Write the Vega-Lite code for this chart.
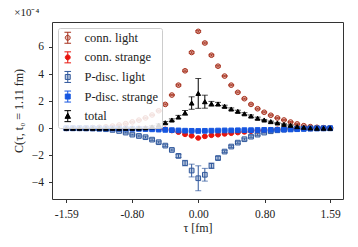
{
"$schema": "https://vega.github.io/schema/vega-lite/v6.json",
"width": 291, "height": 177,
"autosize": {"type": "none"},
"padding": {"left": 52, "top": 22, "right": 15, "bottom": 48},
"background": "white",
"title": {"text": "×10⁻⁴", "anchor": "start", "font": "Liberation Serif", "fontSize": 11, "fontWeight": "normal", "offset": 4, "dx": 2, "color": "#222"},
"config": {
 "view": {"stroke": "#333", "strokeWidth": 1},
 "axis": {"labelFont": "Liberation Serif", "labelFontSize": 11.5, "labelColor": "#222", "titleFont": "Liberation Serif", "titleFontWeight": "normal", "titleColor": "#222", "tickColor": "#333", "tickSize": 3.5, "domain": false, "grid": false},
 "legend": {"orient": "top-left", "offset": 6, "padding": 3.5, "fillColor": "rgba(255,255,255,0.85)", "strokeColor": "#cccccc", "cornerRadius": 2, "symbolSize": 121, "symbolStrokeWidth": 1, "labelOffset": 10.5, "rowPadding": 3.6, "labelFont": "Liberation Serif", "labelFontSize": 12.5, "labelColor": "#222"}
},
"data": {"values": [
{"x":-1.59,"s":"conn. light","v":0,"e":0.04},{"x":-1.5105,"s":"conn. light","v":0.01,"e":0.04},{"x":-1.431,"s":"conn. light","v":0.02,"e":0.04},{"x":-1.3515,"s":"conn. light","v":0.03,"e":0.04},{"x":-1.272,"s":"conn. light","v":0.05,"e":0.04},{"x":-1.1925,"s":"conn. light","v":0.07,"e":0.04},{"x":-1.113,"s":"conn. light","v":0.1,"e":0.04},{"x":-1.0335,"s":"conn. light","v":0.16,"e":0.04},{"x":-0.954,"s":"conn. light","v":0.24,"e":0.04},{"x":-0.8745,"s":"conn. light","v":0.34,"e":0.04},{"x":-0.795,"s":"conn. light","v":0.47,"e":0.04},{"x":-0.7155,"s":"conn. light","v":0.6,"e":0.04},{"x":-0.636,"s":"conn. light","v":0.76,"e":0.04},{"x":-0.5565,"s":"conn. light","v":0.98,"e":0.04},{"x":-0.477,"s":"conn. light","v":1.29,"e":0.04},{"x":-0.3975,"s":"conn. light","v":1.76,"e":0.04},{"x":-0.318,"s":"conn. light","v":2.45,"e":0.04},{"x":-0.2385,"s":"conn. light","v":3.18,"e":0.06},{"x":-0.159,"s":"conn. light","v":4.24,"e":0.06},{"x":-0.0795,"s":"conn. light","v":5.59,"e":0.06},{"x":0,"s":"conn. light","v":7.15,"e":0.06},{"x":0.0795,"s":"conn. light","v":6.29,"e":0.06},{"x":0.159,"s":"conn. light","v":5.39,"e":0.06},{"x":0.2385,"s":"conn. light","v":4.58,"e":0.06},{"x":0.318,"s":"conn. light","v":3.85,"e":0.04},{"x":0.3975,"s":"conn. light","v":3.18,"e":0.04},{"x":0.477,"s":"conn. light","v":2.65,"e":0.04},{"x":0.5565,"s":"conn. light","v":2.18,"e":0.04},{"x":0.636,"s":"conn. light","v":1.76,"e":0.04},{"x":0.7155,"s":"conn. light","v":1.44,"e":0.04},{"x":0.795,"s":"conn. light","v":1.18,"e":0.04},{"x":0.8745,"s":"conn. light","v":0.96,"e":0.04},{"x":0.954,"s":"conn. light","v":0.76,"e":0.04},{"x":1.0335,"s":"conn. light","v":0.61,"e":0.04},{"x":1.113,"s":"conn. light","v":0.46,"e":0.04},{"x":1.1925,"s":"conn. light","v":0.32,"e":0.04},{"x":1.272,"s":"conn. light","v":0.19,"e":0.04},{"x":1.3515,"s":"conn. light","v":0.12,"e":0.04},{"x":1.431,"s":"conn. light","v":0.07,"e":0.04},{"x":1.5105,"s":"conn. light","v":0.04,"e":0.04},{"x":1.59,"s":"conn. light","v":0.02,"e":0.04},
{"x":-1.59,"s":"conn. strange","v":0,"e":0.04},{"x":-1.5105,"s":"conn. strange","v":0,"e":0.04},{"x":-1.431,"s":"conn. strange","v":0,"e":0.04},{"x":-1.3515,"s":"conn. strange","v":0,"e":0.04},{"x":-1.272,"s":"conn. strange","v":0,"e":0.04},{"x":-1.1925,"s":"conn. strange","v":0,"e":0.04},{"x":-1.113,"s":"conn. strange","v":0,"e":0.04},{"x":-1.0335,"s":"conn. strange","v":0,"e":0.04},{"x":-0.954,"s":"conn. strange","v":0,"e":0.04},{"x":-0.8745,"s":"conn. strange","v":0,"e":0.04},{"x":-0.795,"s":"conn. strange","v":0,"e":0.04},{"x":-0.7155,"s":"conn. strange","v":0,"e":0.04},{"x":-0.636,"s":"conn. strange","v":-0.01,"e":0.04},{"x":-0.5565,"s":"conn. strange","v":-0.02,"e":0.04},{"x":-0.477,"s":"conn. strange","v":-0.04,"e":0.04},{"x":-0.3975,"s":"conn. strange","v":-0.08,"e":0.04},{"x":-0.318,"s":"conn. strange","v":-0.17,"e":0.04},{"x":-0.2385,"s":"conn. strange","v":-0.29,"e":0.04},{"x":-0.159,"s":"conn. strange","v":-0.45,"e":0.04},{"x":-0.0795,"s":"conn. strange","v":-0.56,"e":0.04},{"x":0,"s":"conn. strange","v":-0.72,"e":0.04},{"x":0.0795,"s":"conn. strange","v":-0.6,"e":0.04},{"x":0.159,"s":"conn. strange","v":-0.52,"e":0.04},{"x":0.2385,"s":"conn. strange","v":-0.48,"e":0.04},{"x":0.318,"s":"conn. strange","v":-0.42,"e":0.04},{"x":0.3975,"s":"conn. strange","v":-0.37,"e":0.04},{"x":0.477,"s":"conn. strange","v":-0.32,"e":0.04},{"x":0.5565,"s":"conn. strange","v":-0.27,"e":0.04},{"x":0.636,"s":"conn. strange","v":-0.22,"e":0.04},{"x":0.7155,"s":"conn. strange","v":-0.18,"e":0.04},{"x":0.795,"s":"conn. strange","v":-0.14,"e":0.04},{"x":0.8745,"s":"conn. strange","v":-0.11,"e":0.04},{"x":0.954,"s":"conn. strange","v":-0.08,"e":0.04},{"x":1.0335,"s":"conn. strange","v":-0.05,"e":0.04},{"x":1.113,"s":"conn. strange","v":-0.03,"e":0.04},{"x":1.1925,"s":"conn. strange","v":-0.02,"e":0.04},{"x":1.272,"s":"conn. strange","v":-0.01,"e":0.04},{"x":1.3515,"s":"conn. strange","v":-0.01,"e":0.04},{"x":1.431,"s":"conn. strange","v":0,"e":0.04},{"x":1.5105,"s":"conn. strange","v":0,"e":0.04},{"x":1.59,"s":"conn. strange","v":0,"e":0.04},
{"x":-1.59,"s":"P-disc. light","v":0,"e":0.04},{"x":-1.5105,"s":"P-disc. light","v":0,"e":0.04},{"x":-1.431,"s":"P-disc. light","v":0,"e":0.04},{"x":-1.3515,"s":"P-disc. light","v":-0.01,"e":0.04},{"x":-1.272,"s":"P-disc. light","v":-0.02,"e":0.04},{"x":-1.1925,"s":"P-disc. light","v":-0.04,"e":0.04},{"x":-1.113,"s":"P-disc. light","v":-0.07,"e":0.04},{"x":-1.0335,"s":"P-disc. light","v":-0.12,"e":0.04},{"x":-0.954,"s":"P-disc. light","v":-0.2,"e":0.04},{"x":-0.8745,"s":"P-disc. light","v":-0.32,"e":0.04},{"x":-0.795,"s":"P-disc. light","v":-0.47,"e":0.04},{"x":-0.7155,"s":"P-disc. light","v":-0.57,"e":0.07},{"x":-0.636,"s":"P-disc. light","v":-0.66,"e":0.07},{"x":-0.5565,"s":"P-disc. light","v":-0.84,"e":0.07},{"x":-0.477,"s":"P-disc. light","v":-1.03,"e":0.07},{"x":-0.3975,"s":"P-disc. light","v":-1.28,"e":0.07},{"x":-0.318,"s":"P-disc. light","v":-1.6,"e":0.07},{"x":-0.2385,"s":"P-disc. light","v":-2.04,"e":0.12},{"x":-0.159,"s":"P-disc. light","v":-2.57,"e":0.2},{"x":-0.0795,"s":"P-disc. light","v":-3.12,"e":0.47},{"x":0,"s":"P-disc. light","v":-3.69,"e":0.92},{"x":0.0795,"s":"P-disc. light","v":-3.43,"e":0.47},{"x":0.159,"s":"P-disc. light","v":-2.77,"e":0.2},{"x":0.2385,"s":"P-disc. light","v":-2.2,"e":0.12},{"x":0.318,"s":"P-disc. light","v":-1.72,"e":0.07},{"x":0.3975,"s":"P-disc. light","v":-1.35,"e":0.07},{"x":0.477,"s":"P-disc. light","v":-1.06,"e":0.07},{"x":0.5565,"s":"P-disc. light","v":-0.81,"e":0.07},{"x":0.636,"s":"P-disc. light","v":-0.62,"e":0.07},{"x":0.7155,"s":"P-disc. light","v":-0.47,"e":0.07},{"x":0.795,"s":"P-disc. light","v":-0.32,"e":0.04},{"x":0.8745,"s":"P-disc. light","v":-0.22,"e":0.04},{"x":0.954,"s":"P-disc. light","v":-0.15,"e":0.04},{"x":1.0335,"s":"P-disc. light","v":-0.1,"e":0.04},{"x":1.113,"s":"P-disc. light","v":-0.06,"e":0.04},{"x":1.1925,"s":"P-disc. light","v":-0.04,"e":0.04},{"x":1.272,"s":"P-disc. light","v":-0.02,"e":0.04},{"x":1.3515,"s":"P-disc. light","v":-0.01,"e":0.04},{"x":1.431,"s":"P-disc. light","v":0,"e":0.04},{"x":1.5105,"s":"P-disc. light","v":0,"e":0.04},{"x":1.59,"s":"P-disc. light","v":0,"e":0.04},
{"x":-1.59,"s":"P-disc. strange","v":0,"e":0.04},{"x":-1.5105,"s":"P-disc. strange","v":0,"e":0.04},{"x":-1.431,"s":"P-disc. strange","v":0,"e":0.04},{"x":-1.3515,"s":"P-disc. strange","v":0,"e":0.04},{"x":-1.272,"s":"P-disc. strange","v":0,"e":0.04},{"x":-1.1925,"s":"P-disc. strange","v":-0.01,"e":0.04},{"x":-1.113,"s":"P-disc. strange","v":-0.01,"e":0.04},{"x":-1.0335,"s":"P-disc. strange","v":-0.02,"e":0.04},{"x":-0.954,"s":"P-disc. strange","v":-0.02,"e":0.04},{"x":-0.8745,"s":"P-disc. strange","v":-0.03,"e":0.04},{"x":-0.795,"s":"P-disc. strange","v":-0.04,"e":0.04},{"x":-0.7155,"s":"P-disc. strange","v":-0.05,"e":0.04},{"x":-0.636,"s":"P-disc. strange","v":-0.06,"e":0.04},{"x":-0.5565,"s":"P-disc. strange","v":-0.08,"e":0.04},{"x":-0.477,"s":"P-disc. strange","v":-0.1,"e":0.04},{"x":-0.3975,"s":"P-disc. strange","v":-0.12,"e":0.04},{"x":-0.318,"s":"P-disc. strange","v":-0.14,"e":0.04},{"x":-0.2385,"s":"P-disc. strange","v":-0.16,"e":0.04},{"x":-0.159,"s":"P-disc. strange","v":-0.18,"e":0.04},{"x":-0.0795,"s":"P-disc. strange","v":-0.19,"e":0.04},{"x":0,"s":"P-disc. strange","v":-0.2,"e":0.04},{"x":0.0795,"s":"P-disc. strange","v":-0.19,"e":0.04},{"x":0.159,"s":"P-disc. strange","v":-0.18,"e":0.04},{"x":0.2385,"s":"P-disc. strange","v":-0.17,"e":0.04},{"x":0.318,"s":"P-disc. strange","v":-0.16,"e":0.04},{"x":0.3975,"s":"P-disc. strange","v":-0.16,"e":0.04},{"x":0.477,"s":"P-disc. strange","v":-0.15,"e":0.04},{"x":0.5565,"s":"P-disc. strange","v":-0.14,"e":0.04},{"x":0.636,"s":"P-disc. strange","v":-0.14,"e":0.04},{"x":0.7155,"s":"P-disc. strange","v":-0.13,"e":0.04},{"x":0.795,"s":"P-disc. strange","v":-0.12,"e":0.04},{"x":0.8745,"s":"P-disc. strange","v":-0.12,"e":0.04},{"x":0.954,"s":"P-disc. strange","v":-0.11,"e":0.04},{"x":1.0335,"s":"P-disc. strange","v":-0.1,"e":0.04},{"x":1.113,"s":"P-disc. strange","v":-0.09,"e":0.04},{"x":1.1925,"s":"P-disc. strange","v":-0.07,"e":0.04},{"x":1.272,"s":"P-disc. strange","v":-0.05,"e":0.04},{"x":1.3515,"s":"P-disc. strange","v":-0.03,"e":0.04},{"x":1.431,"s":"P-disc. strange","v":-0.02,"e":0.04},{"x":1.5105,"s":"P-disc. strange","v":-0.01,"e":0.04},{"x":1.59,"s":"P-disc. strange","v":0,"e":0.04},
{"x":-1.59,"s":"total","v":0,"e":0.04},{"x":-1.5105,"s":"total","v":0,"e":0.04},{"x":-1.431,"s":"total","v":0,"e":0.04},{"x":-1.3515,"s":"total","v":0,"e":0.04},{"x":-1.272,"s":"total","v":0,"e":0.04},{"x":-1.1925,"s":"total","v":0,"e":0.04},{"x":-1.113,"s":"total","v":0,"e":0.04},{"x":-1.0335,"s":"total","v":0,"e":0.04},{"x":-0.954,"s":"total","v":0,"e":0.04},{"x":-0.8745,"s":"total","v":0,"e":0.04},{"x":-0.795,"s":"total","v":0,"e":0.04},{"x":-0.7155,"s":"total","v":0.01,"e":0.08},{"x":-0.636,"s":"total","v":0.03,"e":0.08},{"x":-0.5565,"s":"total","v":0.1,"e":0.08},{"x":-0.477,"s":"total","v":0.24,"e":0.08},{"x":-0.3975,"s":"total","v":0.41,"e":0.08},{"x":-0.318,"s":"total","v":0.61,"e":0.08},{"x":-0.2385,"s":"total","v":0.83,"e":0.12},{"x":-0.159,"s":"total","v":1.14,"e":0.17},{"x":-0.0795,"s":"total","v":1.86,"e":0.46},{"x":0,"s":"total","v":2.57,"e":1.1},{"x":0.0795,"s":"total","v":1.96,"e":0.48},{"x":0.159,"s":"total","v":1.81,"e":0.17},{"x":0.2385,"s":"total","v":1.79,"e":0.12},{"x":0.318,"s":"total","v":1.62,"e":0.08},{"x":0.3975,"s":"total","v":1.42,"e":0.08},{"x":0.477,"s":"total","v":1.25,"e":0.08},{"x":0.5565,"s":"total","v":1.07,"e":0.08},{"x":0.636,"s":"total","v":0.9,"e":0.08},{"x":0.7155,"s":"total","v":0.74,"e":0.08},{"x":0.795,"s":"total","v":0.61,"e":0.04},{"x":0.8745,"s":"total","v":0.49,"e":0.04},{"x":0.954,"s":"total","v":0.39,"e":0.04},{"x":1.0335,"s":"total","v":0.29,"e":0.04},{"x":1.113,"s":"total","v":0.22,"e":0.04},{"x":1.1925,"s":"total","v":0.12,"e":0.04},{"x":1.272,"s":"total","v":0.07,"e":0.04},{"x":1.3515,"s":"total","v":0.02,"e":0.04},{"x":1.431,"s":"total","v":0,"e":0.04},{"x":1.5105,"s":"total","v":0,"e":0.04},{"x":1.59,"s":"total","v":0,"e":0.04}
]},
"encoding": {
 "x": {"field": "x", "type": "quantitative", "scale": {"domain": [-1.763, 1.745], "nice": false, "zero": false}, "axis": {"values": [-1.59, -0.8, 0, 0.8, 1.59], "format": ".2f", "labelExpr": "replace(datum.label, '−', '-')", "labelPadding": 5.5, "title": "τ [fm]", "titleFontSize": 12, "titlePadding": 3}},
 "y": {"field": "v", "type": "quantitative", "scale": {"domain": [-5.22, 7.84], "nice": false, "zero": false}, "axis": {"values": [-4, -2, 0, 2, 4, 6], "labelPadding": 5, "title": "C(τ, t₀ = 1.11 fm)", "titleFontSize": 12, "titlePadding": 6}}
},
"resolve": {"scale": {"fill": "independent", "stroke": "independent", "shape": "independent"}},
"layer": [
 {"transform": [{"filter": "datum.s === 'conn. light'"}], "mark": {"type": "errorbar", "color": "#a8321e", "ticks": {"size": 6, "thickness": 1}, "thickness": 1}, "encoding": {"yError": {"field": "e"}}},
 {"transform": [{"filter": "datum.s === 'conn. strange'"}], "mark": {"type": "errorbar", "color": "#e8150d", "ticks": {"size": 6, "thickness": 1}, "thickness": 1}, "encoding": {"yError": {"field": "e"}}},
 {"transform": [{"filter": "datum.s === 'P-disc. light'"}], "mark": {"type": "errorbar", "color": "#30589c", "ticks": {"size": 6, "thickness": 1}, "thickness": 1}, "encoding": {"yError": {"field": "e"}}},
 {"transform": [{"filter": "datum.s === 'P-disc. strange'"}], "mark": {"type": "errorbar", "color": "#1656e0", "ticks": {"size": 6, "thickness": 1}, "thickness": 1}, "encoding": {"yError": {"field": "e"}}},
 {"transform": [{"filter": "datum.s === 'total'"}], "mark": {"type": "errorbar", "color": "#000000", "ticks": {"size": 6, "thickness": 1}, "thickness": 1}, "encoding": {"yError": {"field": "e"}}},
 {
  "mark": {"type": "point", "strokeWidth": 1, "size": 22, "opacity": 1},
  "encoding": {
   "fill": {"field": "s", "type": "nominal", "scale": {"domain": ["conn. light", "conn. strange", "P-disc. light", "P-disc. strange", "total"], "range": ["rgba(168,50,30,0.3)", "#e8150d", "rgba(48,88,156,0.3)", "#1656e0", "#000000"]}, "legend": null},
   "stroke": {"field": "s", "type": "nominal", "scale": {"domain": ["conn. light", "conn. strange", "P-disc. light", "P-disc. strange", "total"], "range": ["#a8321e", "#e8150d", "#30589c", "#1656e0", "#000000"]}, "legend": null},
   "shape": {"field": "s", "type": "nominal", "scale": {"domain": ["conn. light", "conn. strange", "P-disc. light", "P-disc. strange", "total"], "range": ["circle", "circle", "square", "square", "triangle-up"]}, "legend": null}
  }
 },
 {
  "transform": [{"filter": "false"}],
  "mark": {"type": "point", "strokeWidth": 1, "size": 22, "opacity": 1},
  "encoding": {
   "fill": {"field": "s", "type": "nominal", "scale": {"domain": ["conn. light", "conn. strange", "P-disc. light", "P-disc. strange", "total"], "range": ["rgba(168,50,30,0.3)", "#e8150d", "rgba(48,88,156,0.3)", "#1656e0", "#000000"]}, "legend": {"title": null}},
   "stroke": {"field": "s", "type": "nominal", "scale": {"domain": ["conn. light", "conn. strange", "P-disc. light", "P-disc. strange", "total"], "range": ["#a8321e", "#e8150d", "#30589c", "#1656e0", "#000000"]}, "legend": {"title": null}},
   "shape": {"field": "s", "type": "nominal", "scale": {"domain": ["conn. light", "conn. strange", "P-disc. light", "P-disc. strange", "total"], "range": ["M-0.6,-1H0.6M0,-1V1M-0.6,1H0.6M0.45,0A0.45,0.45,0,1,1,-0.45,0A0.45,0.45,0,1,1,0.45,0Z", "M-0.6,-1H0.6M0,-1V1M-0.6,1H0.6M0.45,0A0.45,0.45,0,1,1,-0.45,0A0.45,0.45,0,1,1,0.45,0Z", "M-0.6,-1H0.6M0,-1V1M-0.6,1H0.6M-0.45,-0.45H0.45V0.45H-0.45Z", "M-0.6,-1H0.6M0,-1V1M-0.6,1H0.6M-0.45,-0.45H0.45V0.45H-0.45Z", "M-0.6,-1H0.6M0,-1V1M-0.6,1H0.6M0,-0.55L0.5,0.4H-0.5Z"]}, "legend": {"title": null}}
  }
 }
]
}
